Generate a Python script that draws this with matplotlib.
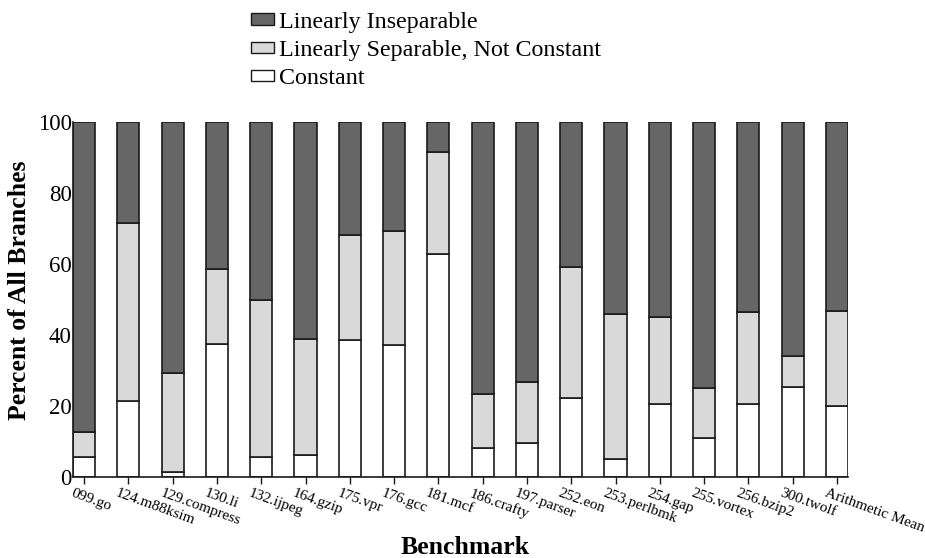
import matplotlib
matplotlib.use("Agg")
import matplotlib.pyplot as plt
from matplotlib.patches import Patch
import matplotlib.transforms as mtransforms

plt.rcParams['font.family'] = ['Liberation Serif', 'DejaVu Serif']

benchmarks = ["099.go", "124.m88ksim", "129.compress", "130.li", "132.ijpeg",
              "164.gzip", "175.vpr", "176.gcc", "181.mcf", "186.crafty",
              "197.parser", "252.eon", "253.perlbmk", "254.gap", "255.vortex",
              "256.bzip2", "300.twolf", "Arithmetic Mean"]

constant = [5.7, 21.5, 1.3, 37.5, 5.5, 6.1, 38.7, 37.2, 62.8, 8.1,
            9.5, 22.3, 5.1, 20.7, 11.1, 20.7, 25.4, 19.9]
separable = [7.0, 50.0, 27.9, 21.2, 44.3, 32.9, 29.6, 32.0, 28.7, 15.2,
             17.4, 36.9, 40.8, 24.5, 14.0, 25.9, 8.7, 26.9]
inseparable = [87.3, 28.5, 70.8, 41.3, 50.2, 61.0, 31.7, 30.8, 8.5, 76.7,
               73.1, 40.8, 54.1, 54.8, 74.9, 53.4, 65.9, 53.2]

yticks = [0, 20, 40, 60, 80, 100]

col_const = "#ffffff"
col_sep = "#d9d9d9"
col_insep = "#666666"
edge = "#1a1a1a"

fig = plt.figure(figsize=(9.25, 5.58), dpi=100)
ax = fig.add_axes([73 / 925, 1 - 477 / 558, (848 - 73) / 925, (477 - 122) / 558])

x = list(range(len(benchmarks)))
w = 0.5
bottom2 = [c + s for c, s in zip(constant, separable)]
ax.bar(x, constant, w, color=col_const, edgecolor=edge, linewidth=1.2, zorder=2)
ax.bar(x, separable, w, bottom=constant, color=col_sep, edgecolor=edge, linewidth=1.2, zorder=2)
ax.bar(x, inseparable, w, bottom=bottom2, color=col_insep, edgecolor=edge, linewidth=1.2, zorder=2)

ax.set_xlim(-0.25, len(benchmarks) - 0.75)
ax.set_ylim(0, 100)
ax.spines['top'].set_visible(False)
ax.spines['right'].set_visible(False)
for s in ('left', 'bottom'):
    ax.spines[s].set_linewidth(1.2)
    ax.spines[s].set_color(edge)

ax.set_yticks(yticks)
ax.set_yticklabels([str(v) for v in yticks], fontsize=16.5)
ax.tick_params(axis='y', length=0, pad=1)

ax.set_xticks(x)
ax.set_xticklabels(benchmarks, fontsize=11, rotation=-20, ha='left', va='top',
                   rotation_mode='anchor')
ax.tick_params(axis='x', length=5, width=1, color=edge, pad=2)
offset = mtransforms.ScaledTranslation(-10 / 100, 0, fig.dpi_scale_trans)
for lbl in ax.get_xticklabels():
    lbl.set_transform(lbl.get_transform() + offset)

fig.text(20 / 925, 1 - 290 / 558, "Percent of All Branches", fontsize=18.5,
         fontweight='bold', rotation=90, ha='center', va='center')
fig.text(465 / 925, 1 - 547 / 558, "Benchmark", fontsize=18.5, fontweight='bold',
         ha='center', va='center')

handles = [Patch(facecolor=col_insep, edgecolor=edge, label="Linearly Inseparable"),
           Patch(facecolor=col_sep, edgecolor=edge, label="Linearly Separable, Not Constant"),
           Patch(facecolor=col_const, edgecolor=edge, label="Constant")]
fig.legend(handles=handles, loc='upper left', bbox_to_anchor=(237 / 925, 1.005),
           frameon=False, fontsize=17.3, handlelength=0.95, handleheight=0.35,
           handletextpad=0.2, labelspacing=0.3, borderaxespad=0.2)

fig.savefig("out.png", dpi=100)
